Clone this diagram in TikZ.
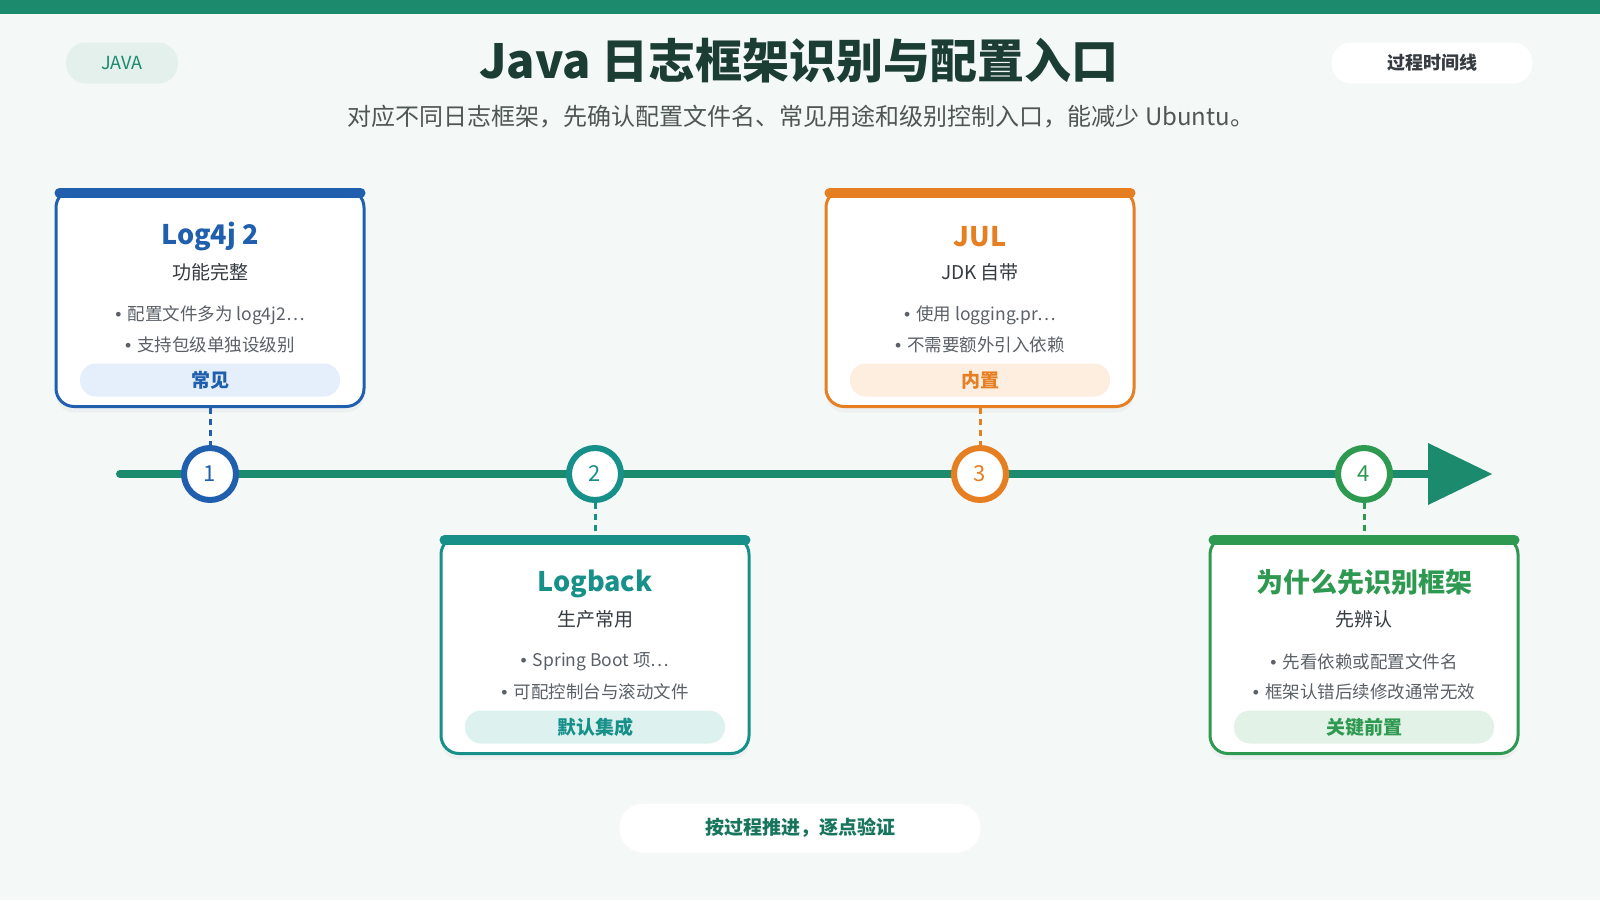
\documentclass[tikz,border=0pt]{standalone}
\usepackage{fontspec}
\setmainfont{Noto Sans CJK SC}
\newfontfamily\dotfont{Liberation Sans}
\usepackage{tikz}
\usetikzlibrary{arrows.meta, positioning, shadows}

\definecolor{bgc}{HTML}{F4F8F7}
\definecolor{mainc}{HTML}{1B8A6D}
\definecolor{titlec}{HTML}{1B3D33}
\definecolor{subc}{HTML}{4F5754}
\definecolor{textc}{HTML}{353B40}
\definecolor{bulletc}{HTML}{5A6066}
\definecolor{bluec}{HTML}{1F5FAE}
\definecolor{tealc}{HTML}{17908A}
\definecolor{orangec}{HTML}{E67E22}
\definecolor{greenc}{HTML}{2E9950}
\definecolor{bluel}{HTML}{E5EFFB}
\definecolor{teall}{HTML}{DDF2EF}
\definecolor{orangel}{HTML}{FDEEDF}
\definecolor{greenl}{HTML}{E2F2E6}
\definecolor{tagl}{HTML}{E3F0EC}

\newcommand{\bul}{{\dotfont •}\hspace{0.35em}}

\begin{document}
\begin{tikzpicture}[
  x=1pt, y=-1pt,
  card/.style={draw=#1, line width=3pt, fill=white, rounded corners=18pt,
    minimum width=308pt, minimum height=217pt,
    drop shadow={shadow xshift=0pt, shadow yshift=-6pt, opacity=0.06}},
  cardbar/.style={draw=#1, line width=10pt, line cap=round},
  cardtitle/.style={text=#1, font=\fontsize{27}{32}\selectfont\bfseries},
  cardsub/.style={text=textc, font=\fontsize{19}{23}\selectfont},
  bullet/.style={text=bulletc, font=\fontsize{17.5}{21}\selectfont},
  badge/.style={fill=#1, rounded corners=16pt, minimum width=260pt, minimum height=33pt},
  badgetext/.style={text=#1, font=\fontsize{19}{23}\selectfont\bfseries},
  dot/.style={circle, draw=#1, line width=6pt, fill=white, minimum size=52pt,
    text=#1, font=\fontsize{22}{26}\selectfont},
  link/.style={draw=#1, line width=3pt, dash pattern=on 6pt off 5pt},
  pill/.style={fill=#1, rounded corners=20pt, minimum height=41pt}
]
  \fill[bgc] (0,0) rectangle (1600,900);
  \useasboundingbox (0,0) rectangle (1600,900);
  \fill[mainc] (0,0) rectangle (1600,14);

  \node[pill=tagl, minimum width=112pt, text=mainc, font=\fontsize{18}{21}\selectfont] (tag) at (122,63) {JAVA};
  \node[pill=white, minimum width=201pt, text=textc, font=\fontsize{18}{22}\selectfont\bfseries] (mode) at (1432,63) {过程时间线};
  \node[text=titlec, font=\fontsize{47}{55}\selectfont\bfseries] (title) at (799,61) {Java 日志框架识别与配置入口};
  \node[text=subc, font=\fontsize{24}{28}\selectfont] (subtitle) at (801,117) {对应不同日志框架，先确认配置文件名、常见用途和级别控制入口，能减少 Ubuntu。};

  \coordinate (tl0) at (120,474);
  \coordinate (tl1) at (1492,474);
  \draw[mainc, line width=8pt, line cap=round, -{Triangle[length=64pt, width=62pt, line width=0pt]}] (tl0) -- (tl1);

  \node[card=bluec] (log) at (210,298) {};
  \node[card=orangec] (jul) at (980,298) {};
  \node[card=tealc] (back) at (595,645) {};
  \node[card=greenc] (why) at (1364,645) {};

  \draw[cardbar=bluec] ([xshift=5pt, yshift=-5pt]log.north west) -- ([xshift=-5pt, yshift=-5pt]log.north east);
  \draw[cardbar=orangec] ([xshift=5pt, yshift=-5pt]jul.north west) -- ([xshift=-5pt, yshift=-5pt]jul.north east);
  \draw[cardbar=tealc] ([xshift=5pt, yshift=-5pt]back.north west) -- ([xshift=-5pt, yshift=-5pt]back.north east);
  \draw[cardbar=greenc] ([xshift=5pt, yshift=-5pt]why.north west) -- ([xshift=-5pt, yshift=-5pt]why.north east);

  \node[dot=bluec] (n1) at (210,474) {1};
  \node[dot=tealc] (n2) at (595,474) {2};
  \node[dot=orangec] (n3) at (980,474) {3};
  \node[dot=greenc] (n4) at (1364,474) {4};

  \draw[link=bluec] (log) -- (n1);
  \draw[link=tealc] (n2) -- (back);
  \draw[link=orangec] (jul) -- (n3);
  \draw[link=greenc] (n4) -- (why);

  \node[cardtitle=bluec] (logt) at (210,237) {Log4j 2};
  \node[cardsub] (logs) at (210,272) {功能完整};
  \node[bullet] (logb1) at (210,315) {\bul 配置文件多为 log4j2…};
  \node[bullet] (logb2) at (210,345) {\bul 支持包级单独设级别};
  \node[badge=bluel] (logk) at (210,380) {};
  \node[badgetext=bluec] (logkt) at (logk) {常见};

  \node[cardtitle=orangec] (jult) at (980,237) {JUL};
  \node[cardsub] (juls) at (980,272) {JDK 自带};
  \node[bullet] (julb1) at (980,315) {\bul 使用 logging.pr…};
  \node[bullet] (julb2) at (980,345) {\bul 不需要额外引入依赖};
  \node[badge=orangel] (julk) at (980,380) {};
  \node[badgetext=orangec] (julkt) at (julk) {内置};

  \node[cardtitle=tealc] (backt) at (595,584) {Logback};
  \node[cardsub] (backs) at (595,619) {生产常用};
  \node[bullet] (backb1) at (595,662) {\bul Spring Boot 项…};
  \node[bullet] (backb2) at (595,692) {\bul 可配控制台与滚动文件};
  \node[badge=teall] (backk) at (595,727) {};
  \node[badgetext=tealc] (backkt) at (backk) {默认集成};

  \node[cardtitle=greenc] (whyt) at (1364,582) {为什么先识别框架};
  \node[cardsub] (whys) at (1364,619) {先辨认};
  \node[bullet] (whyb1) at (1364,662) {\bul 先看依赖或配置文件名};
  \node[bullet] (whyb2) at (1364,692) {\bul 框架认错后续修改通常无效};
  \node[badge=greenl] (whyk) at (1364,727) {};
  \node[badgetext=greenc] (whykt) at (whyk) {关键前置};

  \node[pill=white, rounded corners=24pt, minimum width=361pt, minimum height=49pt,
    text=mainc!85!black, font=\fontsize{19}{23}\selectfont\bfseries] (motto) at (800,828) {按过程推进，逐点验证};
\end{tikzpicture}
\end{document}
